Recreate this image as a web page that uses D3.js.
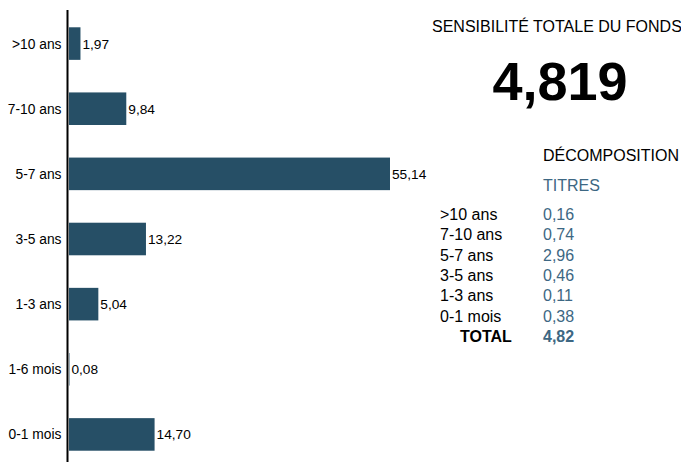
<!DOCTYPE html>
<html><head><meta charset="utf-8">
<script src="https://cdn.jsdelivr.net/npm/d3@7"></script>
<style>body{margin:0;background:#fff}svg{display:block;font-family:"Liberation Sans",Arial,sans-serif}</style>
</head><body><svg id="c" width="681" height="462"></svg>
<script>
const categories = [">10 ans","7-10 ans","5-7 ans","3-5 ans","1-3 ans","1-6 mois","0-1 mois"];
const values = [1.97,9.84,55.14,13.22,5.04,0.08,14.70];
const tableLabels = [">10 ans","7-10 ans","5-7 ans","3-5 ans","1-3 ans","0-1 mois"];
const tableValues = ["0,16","0,74","2,96","0,46","0,11","0,38"];
const totalValue = "4,82";
const totalSensitivity = "4,819";

const svg = d3.select("#c");
const fmt = v => d3.format(".2f")(v).replace(".", ",");
const x = d3.scaleLinear().domain([0, 55.14]).range([69, 390]);
const y = d3.scaleBand().domain(categories).range([11, 467]).paddingInner(0.5).paddingOuter(0.25);
const barColor = "#264f66";

svg.selectAll("rect.bar").data(values).join("rect")
  .attr("x", x(0)).attr("y", (d,i)=>y(categories[i]))
  .attr("width", d=>x(d)-x(0)).attr("height", y.bandwidth()).attr("fill", barColor);

svg.selectAll("text.val").data(values).join("text")
  .attr("x", d=>x(d)+2).attr("y", (d,i)=>y(categories[i])+y.bandwidth()/2+5)
  .attr("font-size", 13.7).attr("fill","#000").text(d=>fmt(d));

const yAxis = svg.append("g").attr("transform","translate(67.5,0)")
  .call(d3.axisLeft(y).tickSize(0).tickPadding(6));
yAxis.select(".domain").remove();
yAxis.selectAll("text").attr("font-size",13.8).attr("fill","#000").attr("font-family","Liberation Sans, Arial, sans-serif").attr("dy","0.36em");
svg.append("line").attr("x1",67.5).attr("x2",67.5).attr("y1",10).attr("y2",462).attr("stroke","#000").attr("stroke-width",2);

svg.append("text").attr("x",432).attr("y",32).attr("font-size",16).attr("fill","#000").text("SENSIBILITÉ TOTALE DU FONDS");
svg.append("text").attr("x",560).attr("y",100).attr("text-anchor","middle").attr("font-size",54).attr("font-weight","bold").attr("fill","#000").text(totalSensitivity);
svg.append("text").attr("x",543).attr("y",161).attr("font-size",16).attr("fill","#000").text("DÉCOMPOSITION");
svg.append("text").attr("x",543).attr("y",191).attr("font-size",16).attr("fill","#3d6783").text("TITRES");

const rowY = d3.scaleLinear().domain([0, 6]).range([220, 342]);
svg.selectAll("text.tl").data(tableLabels).join("text")
  .attr("x",440).attr("y",(d,i)=>rowY(i)).attr("font-size",16).attr("fill","#000").text(d=>d);
svg.selectAll("text.tv").data(tableValues).join("text")
  .attr("x",543).attr("y",(d,i)=>rowY(i)).attr("font-size",16).attr("fill","#3d6783").text(d=>d);
svg.append("text").attr("x",460).attr("y",rowY(6)).attr("font-size",16).attr("font-weight","bold").attr("fill","#000").text("TOTAL");
svg.append("text").attr("x",543).attr("y",rowY(6)).attr("font-size",16).attr("font-weight","bold").attr("fill","#3d6783").text(totalValue);
</script></body></html>
